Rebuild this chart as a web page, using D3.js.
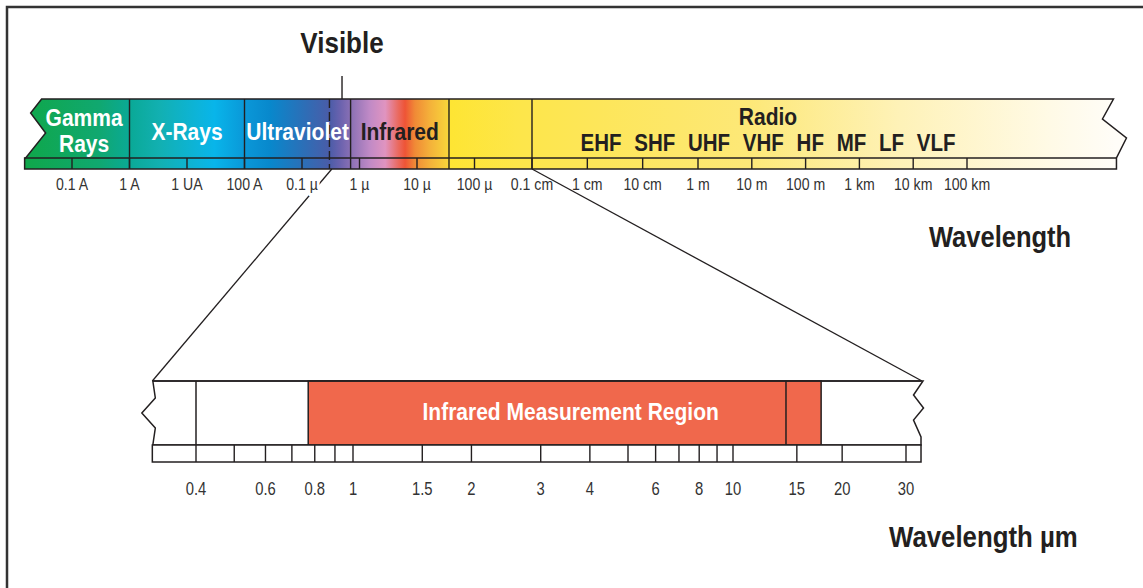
<!DOCTYPE html>
<html><head><meta charset="utf-8">
<script src="https://cdn.jsdelivr.net/npm/d3@7"></script>
<style>
html,body{margin:0;padding:0;background:#fff;}
svg{display:block;}
text{font-family:'Liberation Sans',Arial,sans-serif;}
.bold{font-weight:bold;}
</style>
</head><body>
<svg id="chart" width="1143" height="588"></svg>
<script>
// ---------- DATA ----------
// Top spectrum (wavelength in metres)
const topTickValues = [1e-11,1e-10,1e-9,1e-8,1e-7,1e-6,1e-5,1e-4,1e-3,1e-2,1e-1,1,10,100,1e3,1e4,1e5];
const topTickLabels = ["0.1 A","1 A","1 UA","100 A","0.1 µ","1 µ","10 µ","100 µ","0.1 cm","1 cm","10 cm","1 m","10 m","100 m","1 km","10 km","100 km"];
const topBandExtent = [1.5e-12, 6e7];
const regionNames = [["Gamma","Rays"],["X-Rays"],["Ultraviolet"],["Infrared"],[],[]];
const regionBounds = [1.5e-12, 1e-10, 1e-8, 7e-7, 3.6e-5, 1e-3, 6e7];
const regionTextDark = [false,false,false,true,true,true];
const visibleRange = [3e-7, 7e-7];
const radioLabel = "Radio";
const radioLabelAt = 20;
const radioSubBands = ["EHF","SHF","UHF","VHF","HF","MF","LF","VLF"];
const spectrumStopWavelengths = [1.5e-12,3e-11,1e-10,3.4e-10,1.7e-9,3e-9,1e-8,2.8e-8,1e-7,3e-7,4.6e-7,7e-7,1.5e-6,2.8e-6,4.7e-6,6.2e-6,9.2e-6,1.7e-5,3.4e-5,3.6e-5,6e-4,1.7e-2,9,5.8e3,3.5e6,6e7];
const spectrumStopColors = ["#0fa74a","#10a870","#0aa996","#12b0b2","#0cb4dc","#08b5ea","#0a98d8","#0888cc","#2a70b8","#4a5ca8","#6a62ae","#8a70b4","#c08ac6","#e094c0","#ea6a60","#ee5436","#f08a36","#f4b23a","#f8d43a","#fee533","#fde64a","#fde65a","#fde878","#fef2b8","#fffae6","#fffdf8"];

// Bottom (zoomed) band, wavelength in µm
const bottomBandExtent = [0.31, 33];
const bottomTickValues = [0.4,0.5,0.6,0.7,0.8,0.9,1,1.5,2,3,4,5,6,7,8,9,10,15,20,30];
const bottomLabelValues = [0.4,0.6,0.8,1,1.5,2,3,4,6,8,10,15,20,30];
const bottomLabelTexts = ["0.4","0.6","0.8","1","1.5","2","3","4","6","8","10","15","20","30"];
const measurementRegion = [0.77, 17.5];
const measurementDivider = 14;
const bottomMarker = 0.4;
const measurementLabel = "Infrared Measurement Region";
// zoom connectors: top wavelength (m) -> bottom band ends
const connectorTop = [3.3e-7, 1e-3];

// ---------- LAYOUT ----------
const svg = d3.select("#chart");
const ink = "#231f20";
const T = {y0:99, s0:158, s1:169};
const B = {y0:381, s0:445, s1:462};
const BOLDX = 0.88;   // condensed look of the original face

const xTop = d3.scaleLog().domain([1e-11,1e-3,1,1e5]).range([72,532,698,967]);
const xBot = d3.scaleLog().domain([0.4,1,5,10,30]).range([196,353,628,733,906]);

function label(parent, x, y, txt, size, sx, opts={}){
  const t = parent.append("text")
    .attr("transform",`translate(${x},${y}) scale(${sx},1)`)
    .attr("font-size",size)
    .attr("text-anchor",opts.anchor||"middle")
    .attr("fill",opts.fill||"#231f20")
    .text(txt);
  if(opts.bold) t.attr("class","bold");
  if(opts.halo) t.attr("stroke","#fff").attr("stroke-width",opts.halo).attr("paint-order","stroke").attr("stroke-linejoin","round");
  if(opts.ws) t.attr("word-spacing",opts.ws);
  return t;
}

// frame
svg.append("path").attr("d","M7,588V7H1143").attr("fill","none").attr("stroke","#333").attr("stroke-width",2.5);

// gradient
const gL = xTop(topBandExtent[0]), gR = xTop(topBandExtent[1]);
const grad = svg.append("defs").append("linearGradient").attr("id","spec")
  .attr("gradientUnits","userSpaceOnUse").attr("x1",gL).attr("x2",gR).attr("y1",0).attr("y2",0);
grad.selectAll("stop").data(spectrumStopWavelengths).join("stop")
  .attr("offset",d=>Math.max(0,Math.min(1,(xTop(d)-gL)/(gR-gL))))
  .attr("stop-color",(d,i)=>spectrumStopColors[i]);

// left connector (drawn first, label halo knocks it out)
const bL = xBot(bottomBandExtent[0]), bR = xBot(bottomBandExtent[1]);
svg.append("line").attr("x1",xTop(connectorTop[0])).attr("y1",T.s1).attr("x2",bL).attr("y2",B.y0)
  .attr("stroke",ink).attr("stroke-width",1.3);

// top band shape
const L = gL, R = gR;
const topPath = `M${L+17},${T.y0} L${L+6},${T.y0+14} L${L+21},${T.y0+34} L${L+1},${T.s0} L${L},${T.s0} L${L},${T.s1}
 L${R},${T.s1} L${R},${T.s0} L${R+10},${T.y0+39} L${R-14},${T.y0+20} L${R-3},${T.y0} Z`;
svg.append("path").attr("d",topPath).attr("fill","url(#spec)").attr("stroke",ink).attr("stroke-width",1.5);
svg.append("line").attr("x1",L).attr("x2",R).attr("y1",T.s0).attr("y2",T.s0).attr("stroke",ink).attr("stroke-width",1.5);

svg.append("g").selectAll("line").data(topTickValues).join("line")
  .attr("x1",d=>xTop(d)).attr("x2",d=>xTop(d)).attr("y1",T.s0).attr("y2",T.s1)
  .attr("stroke",ink).attr("stroke-width",1.4);
svg.append("g").selectAll("line").data(regionBounds.slice(1,-1)).join("line")
  .attr("x1",d=>xTop(d)).attr("x2",d=>xTop(d)).attr("y1",T.y0).attr("y2",T.s1)
  .attr("stroke",ink).attr("stroke-width",1.4);
svg.append("line").attr("x1",xTop(visibleRange[0])).attr("x2",xTop(visibleRange[0]))
  .attr("y1",T.y0).attr("y2",T.s1).attr("stroke",ink).attr("stroke-width",1.4).attr("stroke-dasharray","9,4");

// region labels
regionNames.forEach((lines,i)=>{
  if(!lines.length) return;
  let x0 = xTop(regionBounds[i]), x1 = xTop(regionBounds[i+1]);
  if(i===0) x0 += 14;
  const cx = (x0+x1)/2;
  const base = lines.length===1 ? 140 : 126;
  lines.forEach((t,j)=>{
    label(svg, cx, base+j*26, t, 21/BOLDX, BOLDX, {bold:true, fill: regionTextDark[i]?"#231f20":"#fff"});
  });
});
const rx = xTop(radioLabelAt);
label(svg, rx, 125, radioLabel, 21/BOLDX, BOLDX, {bold:true});
label(svg, rx, 151, radioSubBands.join(" "), 20.5/BOLDX, BOLDX, {bold:true, ws:"8px"});

// visible label
const vx = xTop(Math.sqrt(visibleRange[0]*visibleRange[1]))+2;
svg.append("line").attr("x1",vx).attr("x2",vx).attr("y1",76).attr("y2",T.y0).attr("stroke",ink).attr("stroke-width",1.4);
label(svg, vx, 53, "Visible", 26/BOLDX, BOLDX, {bold:true});

// top tick labels
const tg = svg.append("g");
topTickValues.forEach((d,i)=>label(tg, xTop(d), 190, topTickLabels[i], 17.2, 0.82, {fill:"#333", halo:7}));

// right connector drawn over labels
svg.append("line").attr("x1",xTop(connectorTop[1])).attr("y1",T.s1).attr("x2",bR+1).attr("y2",B.y0)
  .attr("stroke",ink).attr("stroke-width",1.3);

// titles
label(svg, 929, 247, "Wavelength", 25.5/BOLDX, BOLDX, {bold:true, anchor:"start"});
label(svg, 889, 547, "Wavelength µm", 25.8/BOLDX, BOLDX, {bold:true, anchor:"start"});

// ---------- bottom band ----------
const botPath = `M${bL+0.5},${B.y0} L${bL+3},${B.y0+17} L${bL-10.5},${B.y0+32} L${bL+3},${B.y0+47} L${bL+0.5},${B.s0}
 L${bR},${B.s0} L${bR},${B.y0+56} L${bR-7.5},${B.y0+39} L${bR+2.5},${B.y0+27} L${bR-7.5},${B.y0+14} L${bR+2},${B.y0} Z`;
svg.append("path").attr("d",botPath).attr("fill","#fff").attr("stroke",ink).attr("stroke-width",1.5);
svg.append("rect").attr("x",xBot(measurementRegion[0])).attr("y",B.y0)
  .attr("width",xBot(measurementRegion[1])-xBot(measurementRegion[0])).attr("height",B.s0-B.y0)
  .attr("fill","#f0684c").attr("stroke",ink).attr("stroke-width",1.5);
svg.append("line").attr("x1",xBot(measurementDivider)).attr("x2",xBot(measurementDivider))
  .attr("y1",B.y0).attr("y2",B.s0).attr("stroke",ink).attr("stroke-width",1.5);
svg.append("line").attr("x1",xBot(bottomMarker)).attr("x2",xBot(bottomMarker))
  .attr("y1",B.y0).attr("y2",B.s0).attr("stroke",ink).attr("stroke-width",1.5);
svg.append("line").attr("x1",bL+0.5).attr("x2",bR).attr("y1",B.y0).attr("y2",B.y0).attr("stroke",ink).attr("stroke-width",1.5);
label(svg, (xBot(measurementRegion[0])+xBot(measurementRegion[1]))/2+6, 420, measurementLabel, 21/BOLDX, BOLDX, {bold:true, fill:"#fff"});
svg.append("rect").attr("x",bL).attr("y",B.s0).attr("width",bR-bL).attr("height",B.s1-B.s0)
  .attr("fill","#fff").attr("stroke",ink).attr("stroke-width",1.5);
svg.append("g").selectAll("line").data(bottomTickValues).join("line")
  .attr("x1",d=>xBot(d)).attr("x2",d=>xBot(d)).attr("y1",B.s0).attr("y2",B.s1)
  .attr("stroke",ink).attr("stroke-width",1.4);
const bg = svg.append("g");
bottomLabelValues.forEach((d,i)=>label(bg, xBot(d), 495, bottomLabelTexts[i], 18.5, 0.8, {fill:"#333"}));
</script>
</body></html>
